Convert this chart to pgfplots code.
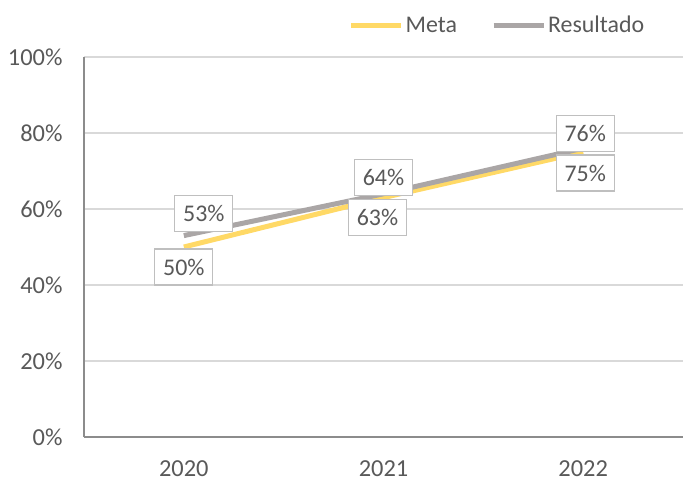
\documentclass[border=0pt]{standalone}
\usepackage{pgfplots}
\pgfplotsset{compat=1.18}
\usepackage{fontspec}
\setmainfont{Carlito}
\definecolor{txt}{HTML}{595959}
\definecolor{meta}{HTML}{FFD966}
\definecolor{res}{RGB}{170,166,166}
\definecolor{gridc}{HTML}{D9D9D9}
\definecolor{axc}{HTML}{8C8C8C}
\definecolor{boxc}{HTML}{BFBFBF}
\begin{document}
\begin{tikzpicture}
\begin{axis}[
  at={(0,0)}, anchor=south west,
  scale only axis, width=599bp, height=380bp,
  xmin=0, xmax=3, ymin=0, ymax=100,
  xtick={0.5,1.5,2.5}, xticklabels={2020,2021,2022},
  ytick={0,20,40,60,80,100},
  yticklabels={0\%,20\%,40\%,60\%,80\%,100\%},
  ymajorgrids, grid style={gridc, line width=1.2bp},
  axis x line*=bottom, axis y line*=left,
  axis line style={axc, line width=1.3bp, -},
  major tick length=0pt,
  tick style={draw=none},
  /pgf/number format/assume math mode=true,
  every tick label/.append style={font=\fontsize{24.5}{29}\selectfont, text=txt},
  xticklabel style={yshift=-20bp},
  yticklabel style={xshift=-18bp},
  clip=false,
  legend columns=2,
  legend style={at={(0.944,1.084)}, anchor=east, draw=none, fill=none,
    font=\fontsize{24}{29}\selectfont, text=txt,
    /tikz/every even column/.append style={column sep=32bp}},
  legend image code/.code={\draw[#1, line width=5bp] (0bp,0bp) -- (50bp,0bp);},
  every node near coord/.append style={
    font=\fontsize{24}{29}\selectfont, text=txt,
    draw=boxc, line width=1.3bp, fill=white,
    minimum width=58bp, minimum height=36bp, inner sep=0pt,
    anchor=center, xshift=\dx bp, yshift=\dy bp},
  visualization depends on={\thisrow{dx} \as \dx},
  visualization depends on={\thisrow{dy} \as \dy},
  nodes near coords={\pgfmathprintnumber[assume math mode=true]{\pgfplotspointmeta}\%},
]
\addplot[meta, line width=5bp, no markers] table[x=x, y=y] {
x y dx dy
0.5 50 0 -20
1.5 63 -6 -20
2.5 75 2 -21
};
\addlegendentry{Meta}
\addplot[res, line width=5bp, no markers] table[x=x, y=y] {
x y dx dy
0.5 53 20 22
1.5 64 0 16
2.5 76 2 15
};
\addlegendentry{Resultado}
\end{axis}
\pgfresetboundingbox
\path[use as bounding box] (-84bp,-44bp) rectangle (599bp,437bp);
\end{tikzpicture}
\end{document}
